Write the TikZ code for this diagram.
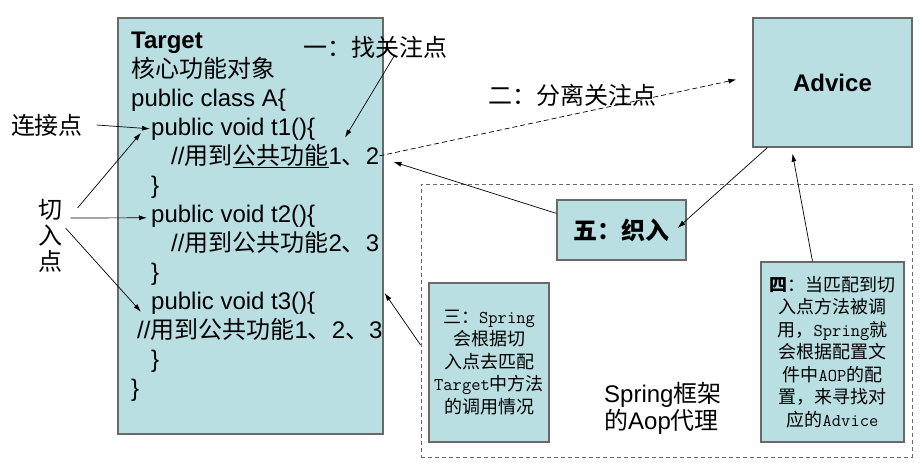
\documentclass[tikz,border=0pt]{standalone}
\usepackage{fontspec}
\setmainfont{Liberation Sans}
\newfontfamily\cjk{Noto Sans CJK SC}
\usepackage{xcolor}
\usetikzlibrary{arrows.meta}

\definecolor{boxfill}{RGB}{185,223,226}
\definecolor{boxline}{RGB}{105,105,105}
\newcommand{\zh}[1]{{\cjk #1}}
\newcommand{\en}[1]{{\ttfamily\fontsize{18}{22.5}\selectfont #1}}

\begin{document}
\begin{tikzpicture}[x=1pt,y=-1pt,
    box/.style={draw=boxline, fill=boxfill, line width=1.2pt, inner sep=0pt},
    code/.style={anchor=base west, inner sep=1pt, font=\fontsize{24}{29}\selectfont},
    label/.style={font=\fontsize{24}{29}\selectfont\cjk},
    note/.style={box, align=center, font=\fontsize{18}{22.5}\selectfont\cjk},
    arr/.style={-{Latex[length=8pt,width=5pt]}, line width=0.7pt},
]
    \useasboundingbox (0,0) rectangle (919,463);

    % Spring frame
    \node[draw=boxline, dash pattern=on 4pt off 3pt, line width=0.9pt,
          minimum width=491pt, minimum height=273pt] (frame) at (666.5,320.5) {};

    % Target
    \node[box, minimum width=265pt, minimum height=416pt] (target) at (250.5,226) {};
    \node[code] (tname) at (130,48) {\bfseries Target};
    \node[code] (tdesc) at (130,77) {\zh{核心功能对象}};
    \node[code] (cls) at (130,106) {public class A\{};
    \node[code] (t1) at (150,135) {public void t1()\{};
    \node[code] (c1) at (170,164) {//\zh{用到\underline{公共功能}}1\zh{、}2};
    \node[code] (e1) at (150,193) {\}};
    \node[code] (t2) at (150,222) {public void t2()\{};
    \node[code] (c2) at (170,251) {//\zh{用到公共功能}2\zh{、}3};
    \node[code] (e2) at (150,280) {\}};
    \node[code] (t3) at (150,309) {public void t3()\{};
    \node[code] (c3) at (136,338) {//\zh{用到公共功能}1\zh{、}2\zh{、}3};
    \node[code] (e3) at (150,367) {\}};
    \node[code] (ecls) at (130,396) {\}};

    % Left labels
    \node[label] (lianjie) at (47,125) {连接点};
    \node[label] (qie) at (50,210) {切};
    \node[label] (ru) at (50,236) {入};
    \node[label] (dian) at (50,261) {点};

    % Steps
    \node[label] (yi) at (375,47) {一：找关注点};
    \node[label] (er) at (572,95) {二：分离关注点};
    \node[box, minimum width=159pt, minimum height=129pt,
          font=\fontsize{24}{29}\selectfont\bfseries] (advice) at (832.5,82.5) {Advice};
    \node[box, minimum width=129pt, minimum height=60pt,
          font=\fontsize{24}{29}\selectfont\cjk\bfseries] (wu) at (621.5,230) {五：织入};
    \node[note, minimum width=120pt, minimum height=159pt] (san) at (489,362.5)
        {三：\en{Spring}\\会根据切\\入点去匹配\\\en{Target}中方法\\的调用情况};
    \node[note, minimum width=143pt, minimum height=180pt] (si) at (832.5,352)
        {\textbf{四}：当匹配到切\\入点方法被调\\用，\en{Spring}就\\会根据配置文\\件中\en{AOP}的配\\置，来寻找对\\应的\en{Advice}};
    \node[anchor=west, align=left, inner sep=1pt, font=\fontsize{24}{27}\selectfont] (aop) at (603,408)
        {Spring\zh{框架}\\\zh{的}Aop\zh{代理}};

    % Arrows
    \draw[arr] ([xshift=10pt]lianjie.east) -- (t1.west);
    \draw[arr] ([xshift=12pt,yshift=2pt]qie.east) -- ([xshift=-9pt,yshift=-4pt]t1.west);
    \draw[arr] ([xshift=5pt,yshift=-8pt]qie.east) -- ([xshift=-3pt,yshift=-2pt]t2.west);
    \draw[arr] ([yshift=-18pt]qie.east) -- ([xshift=-9pt,yshift=-9pt]t3.west);
    \draw[arr] ([xshift=20pt,yshift=7pt]yi.south) -- ([xshift=175pt,yshift=5pt]c1.north west);
    \draw[arr, dash pattern=on 5pt off 3pt] ([xshift=-1pt]c1.east) -- ([xshift=-16pt,yshift=3pt]advice.west);
    \draw[arr] ([yshift=-14pt]wu.north west) -- ([xshift=13pt,yshift=-6pt]c1.east);
    \draw[arr] ([xshift=15pt]advice.south west) -- ([xshift=-9pt,yshift=2pt]wu.east);
    \draw[arr] ([xshift=-20pt]si.north) -- ([xshift=-40pt,yshift=-6pt]advice.south);
    \draw[arr] ([yshift=-24.5pt]frame.west) -- ([xshift=1pt,yshift=-67pt]target.east);
\end{tikzpicture}
\end{document}
